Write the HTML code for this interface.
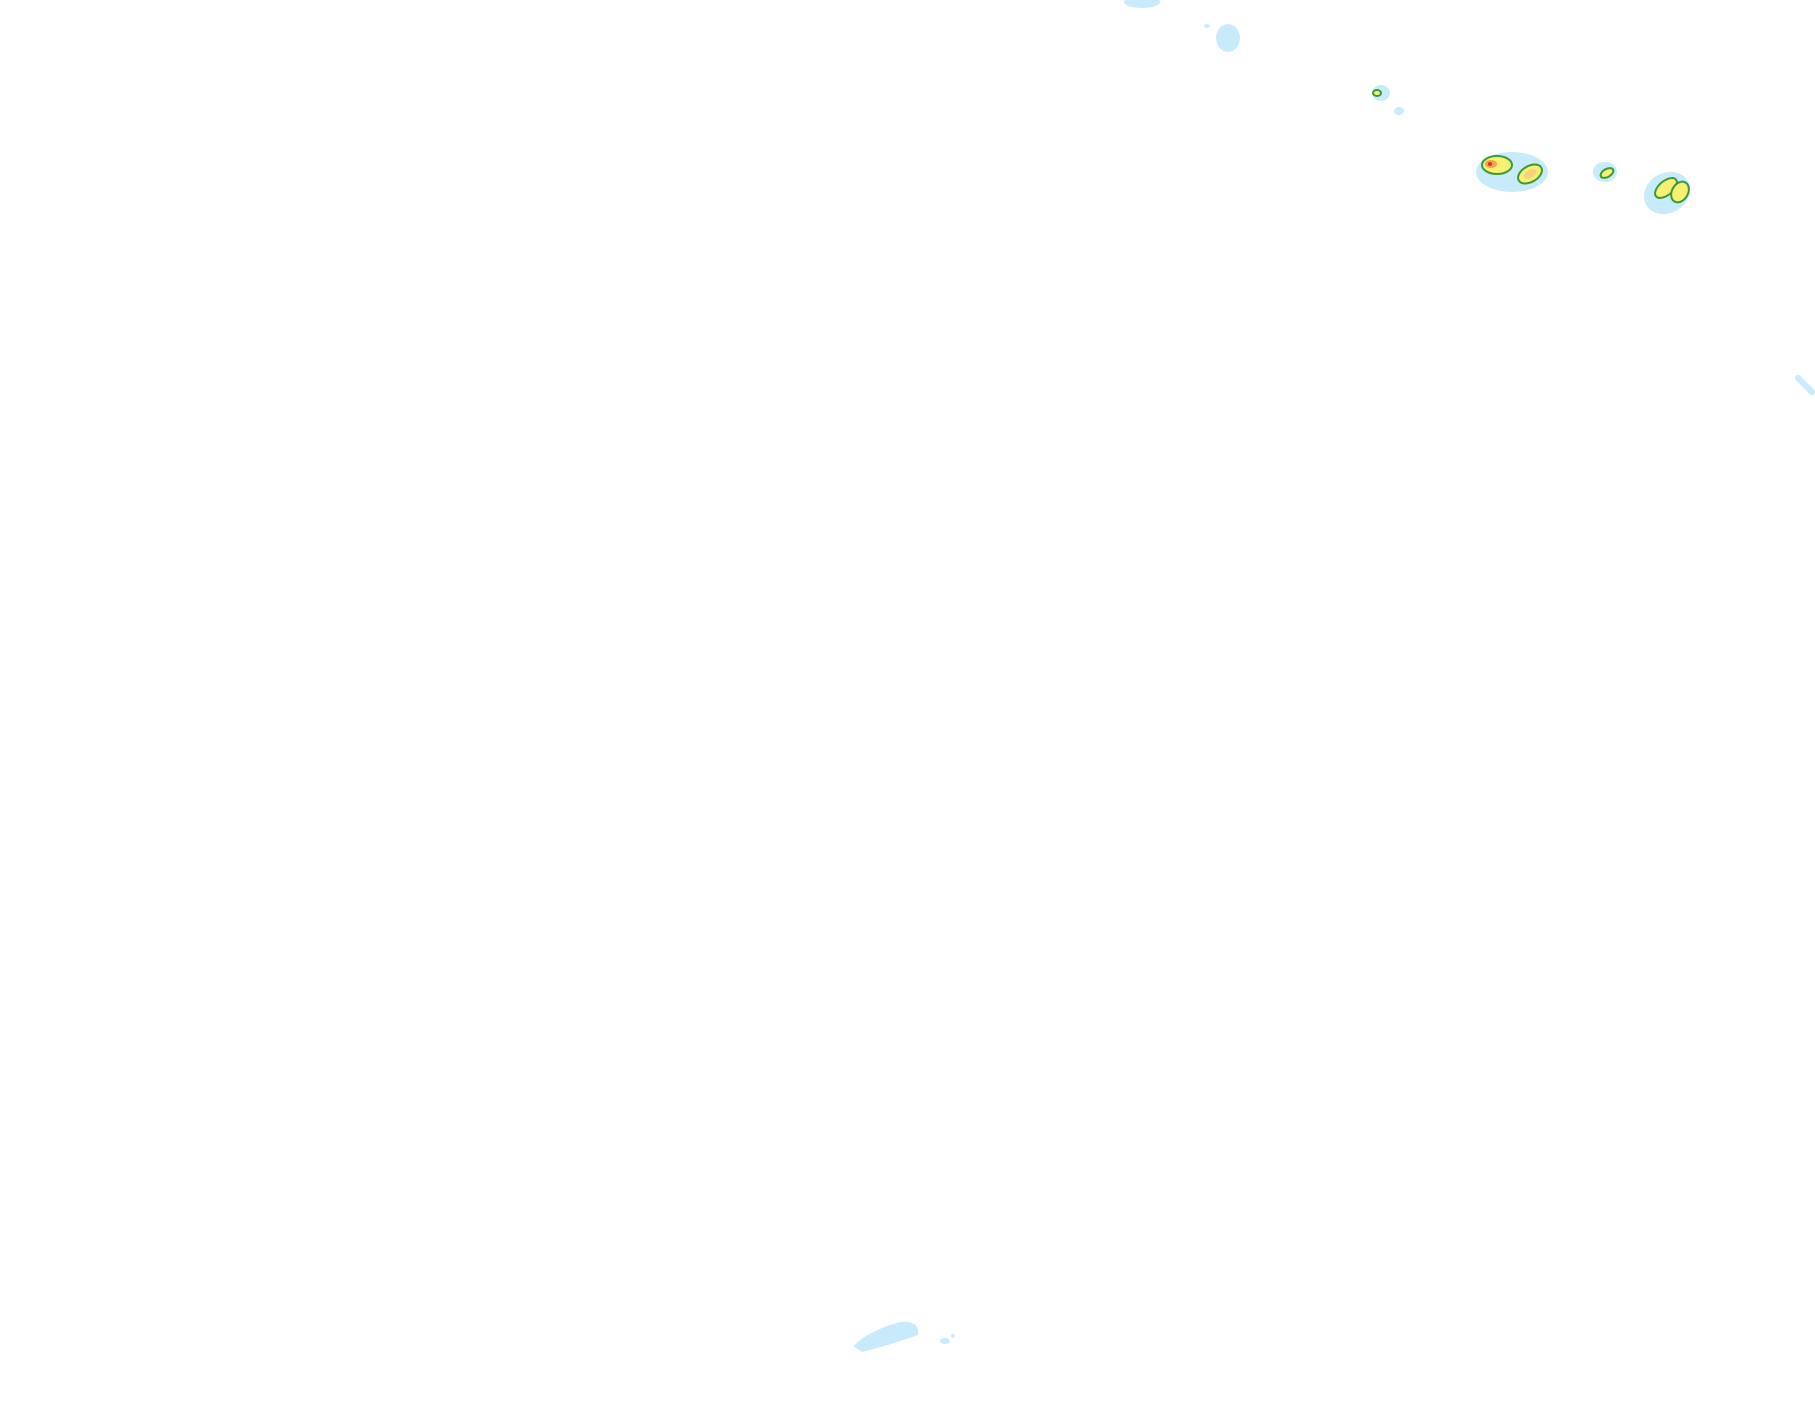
<!DOCTYPE html>
<html><head><style>html,body{margin:0;padding:0;background:#fff;width:1815px;height:1424px;overflow:hidden}</style></head>
<body>
<svg width="1815" height="1424" viewBox="0 0 1815 1424" xmlns="http://www.w3.org/2000/svg">
<g fill="#c8ebfb">
<ellipse cx="1142" cy="2" rx="18" ry="6"/>
<ellipse cx="1228" cy="38" rx="12" ry="14"/>
<ellipse cx="1207" cy="26" rx="3" ry="2"/>
<ellipse cx="1381" cy="93" rx="9" ry="8"/>
<ellipse cx="1399" cy="111" rx="5" ry="4"/>
<ellipse cx="1512" cy="172" rx="36" ry="20"/>
<ellipse cx="1605" cy="172" rx="12" ry="10"/>
<ellipse cx="1667" cy="193" rx="24" ry="20" transform="rotate(-30 1667 193)"/>
<path d="M1798 378 L1812 392" stroke="#c8ebfb" stroke-width="6" stroke-linecap="round"/>
<path d="M853 1346 Q870 1330 900 1322 Q920 1320 918 1335 Q890 1345 862 1352 Z"/>
<ellipse cx="945" cy="1341" rx="5" ry="3"/>
<ellipse cx="953" cy="1336" rx="2" ry="2"/>
</g>
<g stroke="#3a9a3a" stroke-width="2" fill="#f8f070">
<ellipse cx="1497" cy="165" rx="15" ry="9"/>
<ellipse cx="1530" cy="174" rx="13" ry="8" transform="rotate(-30 1530 174)"/>
<ellipse cx="1607" cy="173" rx="7" ry="4" transform="rotate(-30 1607 173)"/>
<ellipse cx="1666" cy="188" rx="13" ry="7" transform="rotate(-40 1666 188)"/>
<ellipse cx="1680" cy="192" rx="8" ry="11" transform="rotate(30 1680 192)"/>
<ellipse cx="1377" cy="93" rx="4" ry="3"/>
</g>
<ellipse cx="1491" cy="164" rx="6" ry="4" fill="#f0a050"/>
<ellipse cx="1490" cy="164" rx="2" ry="2" fill="#e03020"/>
<ellipse cx="1530" cy="174" rx="7" ry="4" fill="#f3d47a" transform="rotate(-30 1530 174)"/>
</svg>
</body></html>
